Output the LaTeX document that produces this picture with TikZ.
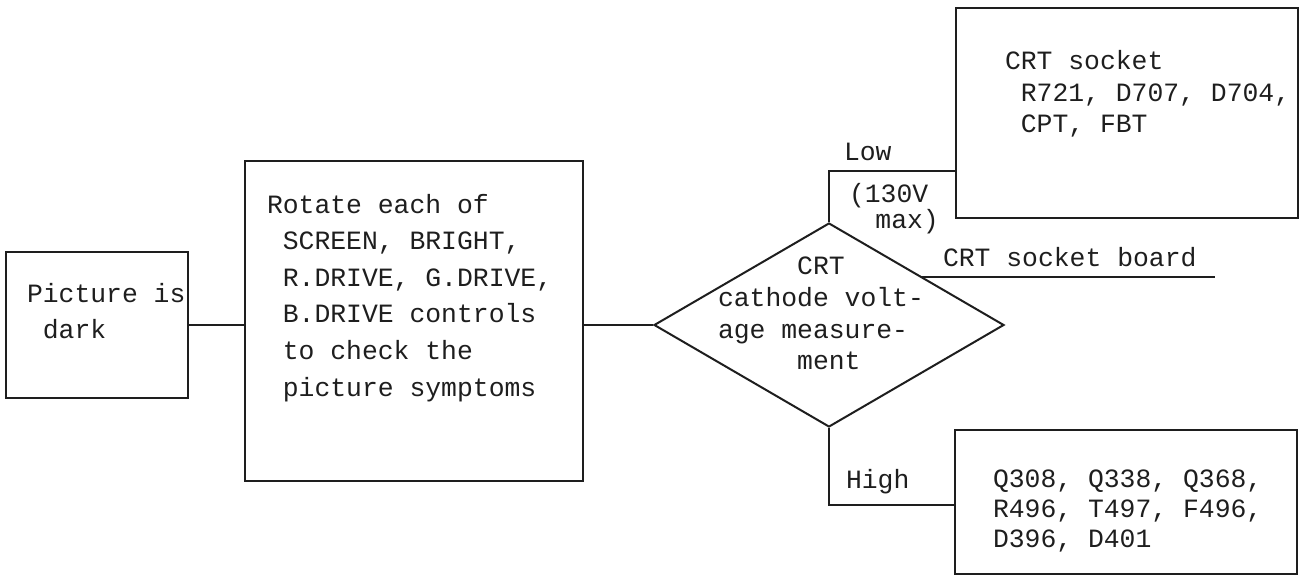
\documentclass[tikz,border=0pt]{standalone}
\usepackage{fontspec}
\setmonofont{Liberation Mono}
\usetikzlibrary{shapes.geometric, calc}
\definecolor{ink}{HTML}{1e1e1e}
\newcommand{\chsp}{\hspace*{0.6em}}

\begin{document}
\begin{tikzpicture}[x=0.5pt, y=-0.5pt, line width=1pt, color=ink,
  box/.style={draw=ink, rectangle, inner sep=0pt},
  txt/.style={anchor=base west, align=left, inner sep=0pt, text=ink,
    font=\ttfamily\fontsize{13.2}{#1}\selectfont},
  txt/.default=15.8pt]
  \useasboundingbox (0,0) rectangle (1307,577);

  % Boxes
  \node[box, minimum width=91pt, minimum height=72.5pt] (dark) at (97,325) {};
  \node[box, minimum width=169pt, minimum height=160pt] (controls) at (414,321) {};
  \node[diamond, draw=ink, inner sep=0pt, minimum width=175pt, minimum height=102pt] (cathode) at (829,325) {};
  \node[box, minimum width=171pt, minimum height=105pt] (socket) at (1127,113) {};
  \node[box, minimum width=171pt, minimum height=72pt] (parts) at (1126,502) {};

  % Texts (anchored on the baseline of the last line)
  \node[txt=17.5pt] (dark-t) at (26,338) {Picture is\\\chsp dark};
  \node[txt=18.3pt] (controls-t) at (266,396) {Rotate each of\\\chsp SCREEN, BRIGHT,\\\chsp R.DRIVE, G.DRIVE,\\\chsp B.DRIVE controls\\\chsp to check the\\\chsp picture symptoms};
  \node[txt=15.85pt] (cathode-t) at (717,370) {\hspace*{3em}CRT\\cathode volt-\\age measure-\\\hspace*{3em}ment};
  \node[txt=15.75pt] (socket-t) at (1004,133) {CRT socket\\\chsp R721, D707, D704,\\\chsp CPT, FBT};
  \node[txt=15pt] (parts-t) at (992,547) {Q308, Q338, Q368,\\R496, T497, F496,\\D396, D401};
  \node[txt] (low) at (843,161) {Low};
  \node[txt=11pt] (max) at (848,229) {(130V\\\hspace*{1em}max)};
  \node[txt] (high) at (845,488) {High};
  \node[txt] (board) at (942,267) {CRT socket board};

  % Connectors
  \draw (dark.east) -- (dark.east -| controls.west);
  \draw (controls.east |- cathode.west) -- (cathode.west);
  \coordinate (lowbend) at (829,171);
  \draw (cathode.north) -- (lowbend) -- (lowbend -| socket.west);
  \coordinate (highbend) at (829,505);
  \draw (cathode.south) -- (highbend) -- (highbend -| parts.west);
  \coordinate (boardstart) at ($(cathode.north)!0.53!(cathode.east)$);
  \coordinate (boardend) at (1215,277);
  \draw (boardstart) -- (boardstart -| boardend);
\end{tikzpicture}
\end{document}
